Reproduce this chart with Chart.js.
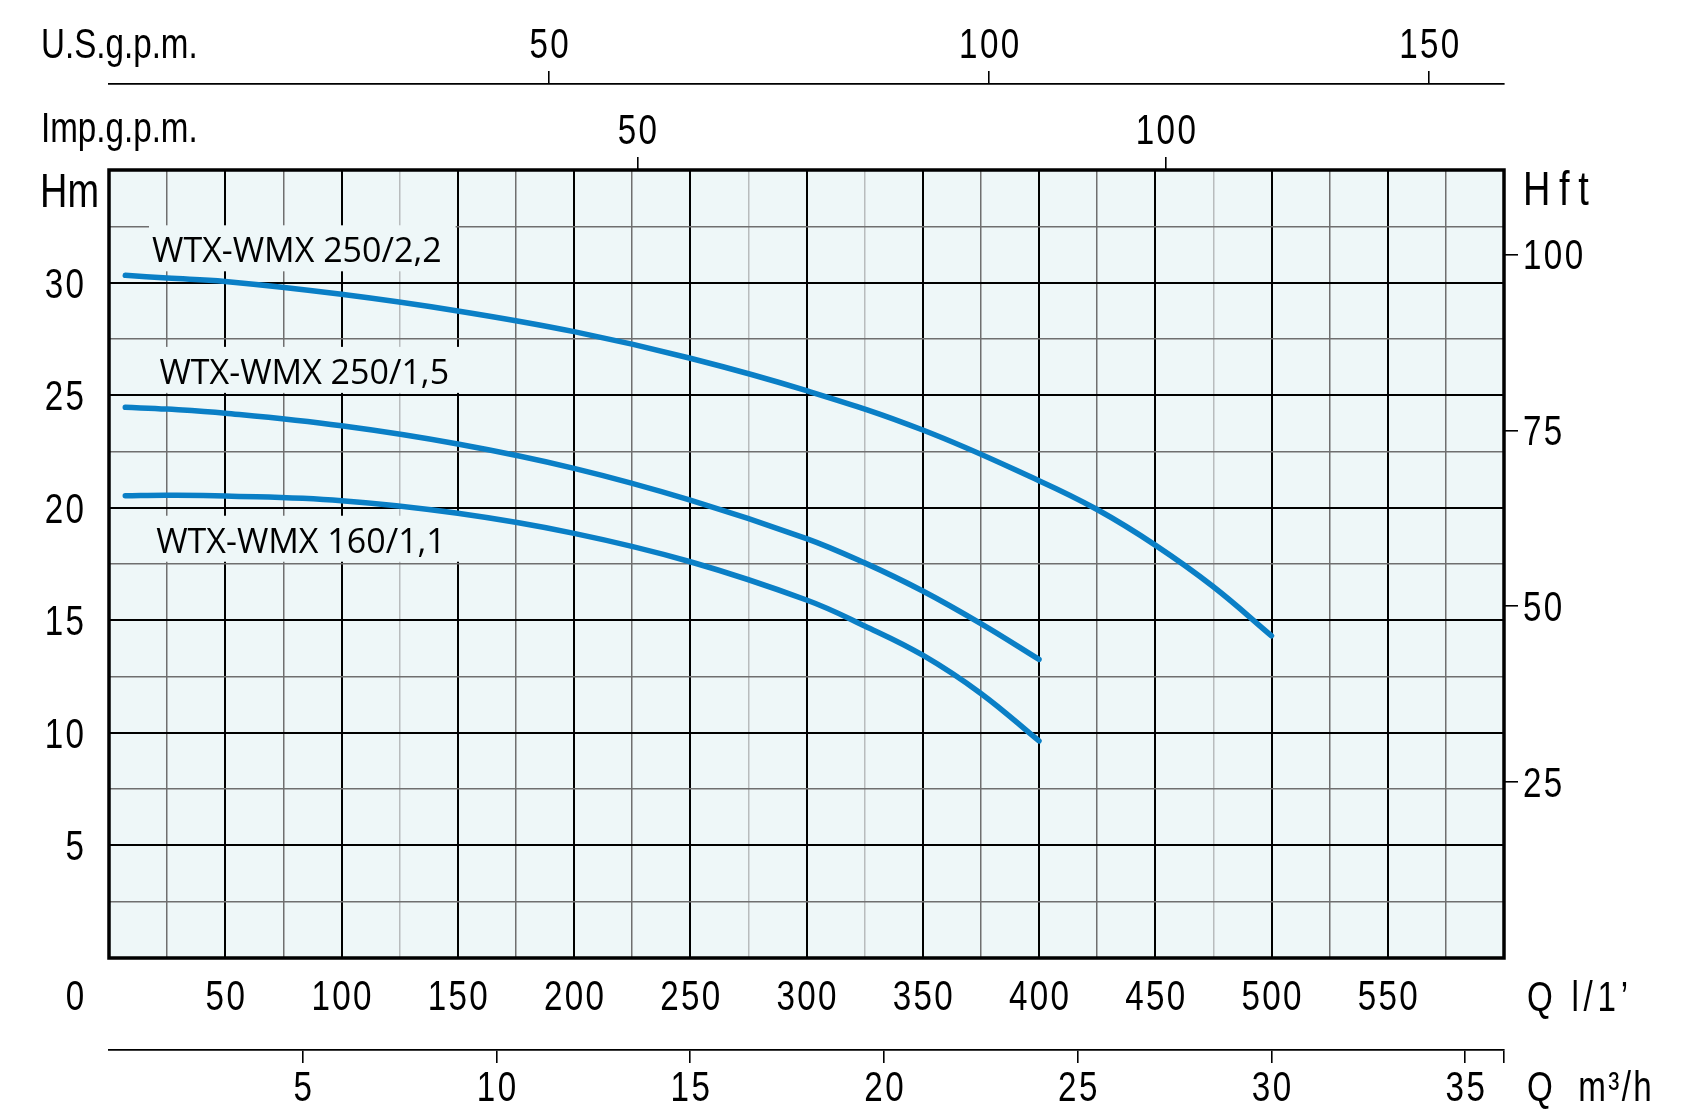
<!DOCTYPE html>
<html>
<head>
<meta charset="utf-8">
<title>WTX-WMX pump curves</title>
<script src="https://cdn.jsdelivr.net/npm/chart.js@4.4.0/dist/chart.umd.min.js"></script>
<style>
  html, body { margin: 0; padding: 0; background: #fff; }
</style>
</head>
<body>
<canvas id="pumpChart" width="1689" height="1118"></canvas>
<script>
// --- data: Q in l/min, H in m ---
const q22 = [7, 25, 50, 100, 150, 200, 250, 300, 350, 400, 425, 450, 475, 500];
const h22 = [30.32, 30.2, 30.05, 29.48, 28.74, 27.82, 26.64, 25.2, 23.45, 21.2, 19.92, 18.34, 16.49, 14.31];

const q15 = [7, 25, 50, 100, 150, 200, 250, 300, 325, 350, 375, 400];
const h15 = [24.46, 24.38, 24.2, 23.64, 22.83, 21.75, 20.34, 18.63, 17.55, 16.3, 14.85, 13.26];

const q11 = [7, 25, 50, 100, 150, 200, 250, 300, 325, 350, 375, 400];
const h11 = [20.53, 20.55, 20.52, 20.31, 19.75, 18.86, 17.6, 15.9, 14.75, 13.45, 11.75, 9.64];

const curveNames = ['WTX-WMX 250/2,2', 'WTX-WMX 250/1,5', 'WTX-WMX 160/1,1'];
const nameQ = [18.5, 21.7, 20.3];   // where each name starts (l/min)
const nameH = [30.9, 25.5, 18.0];   // name baseline (m)

// tick labels
const lpmLabels = [50, 100, 150, 200, 250, 300, 350, 400, 450, 500, 550];
const mLabels = [5, 10, 15, 20, 25, 30];
const ftTicks = [25, 50, 75, 100];
const m3hTicks = [5, 10, 15, 20, 25, 30, 35];
const usGpmTicks = [50, 100, 150];
const impGpmTicks = [50, 100];

// axis ranges
const qMax = 600;
const hMax = 35;
const hftMax = 112;
const m3hMax = 36;
const usGpmMax = 158.5;
const impGpmMax = 132;

// --- style ---
const TECH_FONT = '"Liberation Sans", Arial, sans-serif';
const NAME_FONT = '"Open Sans", "Noto Sans", sans-serif';
const SQUEEZE = 0.79;   // the drawing uses a narrow technical lettering
const DIGIT_GAP = 3;
const PLOT_BG = '#eef7f8';
const CURVE = '#0a7fc6';
const MINOR = '#6f6f6f';
const PALE = '#b8bcbd';
const paleQ = [125, 275, 325, 475];

function pts(xs, ys) {
    return xs.map((x, i) => ({ x: x, y: ys[i] }));
}

function vGridColor(ctx) {
    const v = ctx.tick.value;
    if (v % 50 === 0) return '#000';
    return paleQ.includes(v) ? PALE : MINOR;
}

function hGridColor(ctx) {
    return ctx.tick.value % 5 === 0 ? '#000' : MINOR;
}

// narrow text: normal font squeezed horizontally
function narrowText(ctx, text, x, y, align, size, spacing) {
    spacing = spacing || 0;
    // letterSpacing also trails the last glyph, undo that for centred / right text
    if (align === 'center') x += spacing * SQUEEZE / 2;
    if (align === 'right') x += spacing * SQUEEZE;
    ctx.save();
    ctx.font = size + 'px ' + TECH_FONT;
    ctx.letterSpacing = spacing + 'px';
    ctx.textAlign = align;
    ctx.textBaseline = 'alphabetic';
    ctx.fillStyle = '#000';
    ctx.translate(x, y);
    ctx.scale(SQUEEZE, 1);
    ctx.fillText(text, 0, 0);
    ctx.restore();
}

// extra axis that only shows tick marks outside the plot
function outerAxis(position, max, tickVals, extra) {
    return Object.assign({
        type: 'linear',
        position: position,
        min: 0,
        max: max,
        afterBuildTicks: s => { s.ticks = tickVals.map(v => ({ value: v })); },
        ticks: { display: false },
        grid: { drawOnChartArea: false, drawTicks: true, tickLength: 13, color: '#000', lineWidth: 1.6 },
        border: { display: false }
    }, extra);
}

const decor = {
    id: 'decor',
    beforeDraw(chart) {
        const { ctx, chartArea: a } = chart;
        ctx.save();
        ctx.fillStyle = PLOT_BG;
        ctx.fillRect(a.left, a.top, a.right - a.left, a.bottom - a.top);
        ctx.restore();
    },
    beforeDatasetsDraw(chart) {
        // curve names sit on a patch of background, hiding the grid
        const { ctx, scales } = chart;
        ctx.save();
        ctx.font = '34px ' + NAME_FONT;
        ctx.textBaseline = 'alphabetic';
        curveNames.forEach((name, i) => {
            const x = scales.x.getPixelForValue(nameQ[i]);
            const y = scales.y.getPixelForValue(nameH[i]);
            const w = ctx.measureText(name).width;
            ctx.fillStyle = PLOT_BG;
            ctx.fillRect(x - 3, y - 37, w + 17, 46);
            ctx.fillStyle = '#000';
            ctx.fillText(name, x, y);
        });
        ctx.restore();
    },
    afterDatasetsDraw(chart) {
        const { ctx, chartArea: a } = chart;
        ctx.save();
        ctx.strokeStyle = '#000';
        ctx.lineWidth = 3.5;
        ctx.strokeRect(a.left, a.top, a.right - a.left, a.bottom - a.top);
        ctx.restore();
    },
    afterDraw(chart) {
        const { ctx, chartArea: a } = chart;
        const s = chart.scales;
        const g = DIGIT_GAP;

        // tick labels, placed with the scales
        usGpmTicks.forEach(v => narrowText(ctx, String(v), s.x4.getPixelForValue(v), s.x4.bottom - 26, 'center', 42, g));
        impGpmTicks.forEach(v => narrowText(ctx, String(v), s.x3.getPixelForValue(v), s.x3.bottom - 26, 'center', 42, g));
        lpmLabels.forEach(v => narrowText(ctx, String(v), s.x.getPixelForValue(v), s.x.top + 52, 'center', 42, g));
        m3hTicks.forEach(v => narrowText(ctx, String(v), s.x2.getPixelForValue(v), s.x2.top + 51, 'center', 42, g));
        mLabels.forEach(v => narrowText(ctx, String(v), s.y.right - 25, s.y.getPixelForValue(v) + 15, 'right', 42, g));
        ftTicks.forEach(v => narrowText(ctx, String(v), s.y2.left + 19, s.y2.getPixelForValue(v) + 15, 'left', 42, g));
        narrowText(ctx, '0', a.left - 34, s.x.top + 52, 'center', 42);

        // unit captions
        narrowText(ctx, 'U.S.g.p.m.', 41, s.x4.bottom - 26, 'left', 42);
        narrowText(ctx, 'Imp.g.p.m.', 41, s.x3.bottom - 28, 'left', 42);
        narrowText(ctx, 'Q l/1\u2019', 1527, s.x.top + 53, 'left', 42, 6);
        narrowText(ctx, 'Q  m\u00b3/h', 1527, s.x2.top + 51, 'left', 42, 3);
        narrowText(ctx, 'Hm', 40, a.top + 37, 'left', 48);
        narrowText(ctx, 'Hft', 1523, a.top + 35, 'left', 48, 11);
    }
};

const line = (data) => ({
    data: data,
    borderColor: CURVE,
    borderWidth: 5.5,
    borderCapStyle: 'round',
    pointRadius: 0,
    tension: 0.4,
    fill: false
});

new Chart(document.getElementById('pumpChart').getContext('2d'), {
    type: 'line',
    data: {
        datasets: [line(pts(q22, h22)), line(pts(q15, h15)), line(pts(q11, h11))]
    },
    plugins: [decor],
    options: {
        responsive: false,
        animation: false,
        layout: { padding: 0 },
        plugins: { legend: { display: false }, tooltip: { enabled: false } },
        scales: {
            x: {
                type: 'linear', position: 'bottom', weight: 1,
                min: 0, max: qMax,
                ticks: { stepSize: 25, autoSkip: false, display: false },
                grid: { color: vGridColor, lineWidth: c => (c.tick.value % 50 === 0 ? 2 : 1.5), drawTicks: false },
                border: { display: false },
                afterFit: s => { s.height = 92; }
            },
            x2: outerAxis('bottom', m3hMax, m3hTicks, {
                weight: 2,
                // tick marks at every label plus one closing the line
                afterBuildTicks: s => { s.ticks = m3hTicks.concat([m3hMax]).map(v => ({ value: v })); },
                border: { display: true, color: '#000', width: 1.8 },
                afterFit: s => { s.height = 68; }
            }),
            x3: outerAxis('top', impGpmMax, impGpmTicks, {
                weight: 1,
                afterFit: s => { s.height = 86; }
            }),
            x4: outerAxis('top', usGpmMax, usGpmTicks, {
                weight: 2,
                border: { display: true, color: '#000', width: 1.8 },
                afterFit: s => { s.height = 84; }
            }),
            y: {
                type: 'linear', position: 'left',
                min: 0, max: hMax,
                ticks: { stepSize: 2.5, autoSkip: false, display: false },
                grid: { color: hGridColor, lineWidth: c => (c.tick.value % 5 === 0 ? 2 : 1.5), drawTicks: false },
                border: { display: false },
                afterFit: s => { s.width = 109; }
            },
            y2: outerAxis('right', hftMax, ftTicks, {
                grid: { drawOnChartArea: false, drawTicks: true, tickLength: 14, color: '#000', lineWidth: 1.6 },
                afterFit: s => { s.width = 1689 - 1504; }
            })
        }
    }
});
</script>
</body>
</html>
